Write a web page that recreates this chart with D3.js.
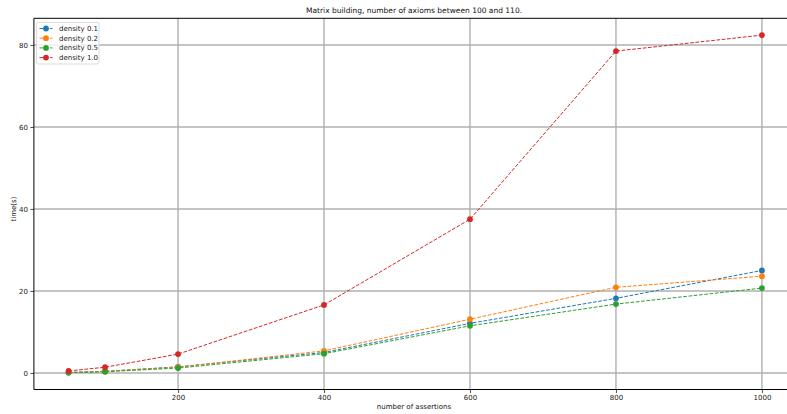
<!DOCTYPE html>
<html>
<head>
<meta charset="utf-8">
<script src="https://cdn.jsdelivr.net/npm/d3@7"></script>
<style>
  body { margin: 0; background: #fff; }
  svg { display: block; font-family: "DejaVu Sans", sans-serif; }
</style>
</head>
<body>
<script>
// data
var assertions = [50, 100, 200, 400, 600, 800, 1000];
var density01 = [0.1, 0.4, 1.5, 5.0, 12.1, 18.2, 25.0];
var density02 = [0.1, 0.4, 1.4, 5.4, 13.1, 20.9, 23.6];
var density05 = [0.1, 0.3, 1.2, 4.7, 11.5, 16.8, 20.7];
var density10 = [0.5, 1.4, 4.6, 16.6, 37.5, 78.5, 82.4];
var seriesNames = ["density 0.1", "density 0.2", "density 0.5", "density 1.0"];
var xTicks = [200, 400, 600, 800, 1000];
var yTicks = [0, 20, 40, 60, 80];

var colors = ["#1f77b4", "#ff7f0e", "#2ca02c", "#d62728"];
var series = [density01, density02, density05, density10].map(function(vals, i) {
  return { name: seriesNames[i], color: colors[i],
           values: vals.map(function(v, j) { return { x: assertions[j], y: v }; }) };
});

var W = 787, H = 414;
var pLeft = 33.9, pTop = 18.3, pBottom = 389.5, plotW = 762.7;

var svg = d3.select("body").append("svg")
  .attr("width", W).attr("height", H);

var x = d3.scaleLinear().domain([2.5, 1047.5]).range([pLeft, pLeft + plotW]);
var y = d3.scaleLinear().domain([-4.03, 86.5]).range([pBottom, pTop]);

// grid
var grid = svg.append("g");
grid.selectAll(".gx").data(xTicks).enter().append("line")
  .attr("x1", function(d) { return x(d); }).attr("x2", function(d) { return x(d); })
  .attr("y1", pTop).attr("y2", pBottom)
  .attr("stroke", "#b0b0b0").attr("stroke-width", 1.4);
grid.selectAll(".gy").data(yTicks).enter().append("line")
  .attr("y1", function(d) { return y(d); }).attr("y2", function(d) { return y(d); })
  .attr("x1", pLeft).attr("x2", W)
  .attr("stroke", "#b0b0b0").attr("stroke-width", 1.4);

// axes
var xAxis = svg.append("g")
  .attr("transform", "translate(0," + pBottom + ")")
  .call(d3.axisBottom(x).tickValues(xTicks).tickFormat(d3.format("d"))
    .tickSize(3.5).tickPadding(2.5).tickSizeOuter(0));
var yAxis = svg.append("g")
  .attr("transform", "translate(" + pLeft + ",0)")
  .call(d3.axisLeft(y).tickValues(yTicks).tickFormat(d3.format("d"))
    .tickSize(3.5).tickPadding(2.5).tickSizeOuter(0));
[xAxis, yAxis].forEach(function(a) {
  a.select(".domain").remove();
  a.selectAll("text").attr("font-size", 7).attr("fill", "#222").style("font-family", "DejaVu Sans");
  a.selectAll("line").attr("stroke", "#222").attr("stroke-width", 0.8);
});

// spines
svg.append("line").attr("x1", pLeft).attr("x2", pLeft).attr("y1", pTop).attr("y2", pBottom)
  .attr("stroke", "#000").attr("stroke-width", 1);
svg.append("line").attr("x1", pLeft).attr("x2", W).attr("y1", pBottom).attr("y2", pBottom)
  .attr("stroke", "#000").attr("stroke-width", 1);
svg.append("line").attr("x1", pLeft).attr("x2", W).attr("y1", pTop).attr("y2", pTop)
  .attr("stroke", "#000").attr("stroke-width", 1);

// lines + markers
var line = d3.line().x(function(d) { return x(d.x); }).y(function(d) { return y(d.y); });
series.forEach(function(s) {
  var g = svg.append("g");
  g.append("path").datum(s.values).attr("d", line)
    .attr("fill", "none").attr("stroke", s.color).attr("stroke-width", 1)
    .attr("stroke-dasharray", "3.7,1.6");
  g.selectAll("circle").data(s.values).enter().append("circle")
    .attr("cx", function(d) { return x(d.x); }).attr("cy", function(d) { return y(d.y); })
    .attr("r", 2.9).attr("fill", s.color);
});

// titles
svg.append("text").attr("x", 414).attr("y", 13).attr("text-anchor", "middle")
  .attr("font-size", 7.5).attr("fill", "#111").text("Matrix building, number of axioms between 100 and 110.");
svg.append("text").attr("x", 414).attr("y", 409).attr("text-anchor", "middle")
  .attr("font-size", 7).attr("fill", "#111").text("number of assertions");
svg.append("text").attr("transform", "translate(16,209) rotate(-90)").attr("text-anchor", "middle")
  .attr("font-size", 7).attr("fill", "#111").text("time(s)");

// legend
var lg = svg.append("g").attr("transform", "translate(36.5,22.5)");
lg.append("rect").attr("width", 62.5).attr("height", 41.5).attr("rx", 2)
  .attr("fill", "#fff").attr("fill-opacity", 0.8).attr("stroke", "#d0d0d0").attr("stroke-width", 0.8);
series.forEach(function(s, i) {
  var yy = 6 + i * 9.7;
  lg.append("line").attr("x1", 3).attr("x2", 16).attr("y1", yy).attr("y2", yy)
    .attr("stroke", s.color).attr("stroke-width", 1).attr("stroke-dasharray", "3.7,1.6");
  lg.append("circle").attr("cx", 9.5).attr("cy", yy).attr("r", 2.9).attr("fill", s.color);
  lg.append("text").attr("x", 22.5).attr("y", yy + 2.5).attr("font-size", 7).attr("fill", "#222").text(s.name);
});
</script>
</body>
</html>
